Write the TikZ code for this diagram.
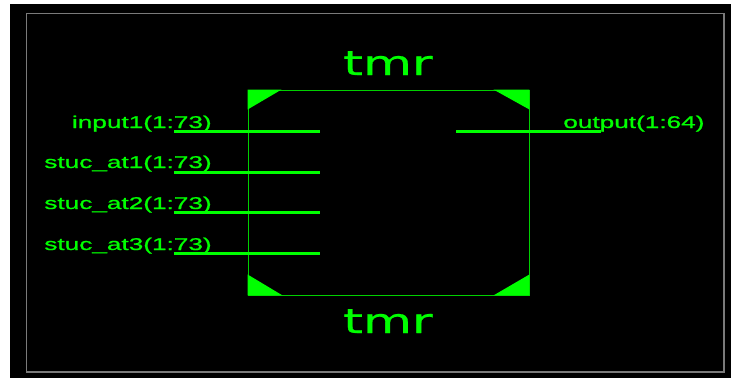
\documentclass[tikz,border=0pt]{standalone}
\usepackage{fontspec}
\usepackage{xcolor}
\usepackage{tikz}
\usetikzlibrary{calc, positioning}
\newfontfamily\pinfont[FakeBold=0.8]{Liberation Sans}
\newfontfamily\titlefont[FakeBold=0.6]{DejaVu Sans}
\definecolor{schgreen}{HTML}{00FF00}
\definecolor{boxgreen}{HTML}{00D000}
\definecolor{framegray}{HTML}{7A7A7A}
\tikzset{
    symbox/.style={
        rectangle, draw=boxgreen, line width=0.9pt,
        minimum width=281pt, minimum height=205pt, inner sep=0pt
    },
    corner/.style={
        fill=schgreen, draw=none
    },
    pinline/.style={
        draw=schgreen, line width=3pt
    },
    pinlab/.style={
        font=\pinfont\fontsize{17}{17}\selectfont, text=schgreen,
        inner sep=0pt, xscale=1.54
    },
    titlelab/.style={
        font=\titlefont\fontsize{34}{34}\selectfont, text=schgreen,
        inner sep=0pt, anchor=base, xscale=1.48
    },
}

\begin{document}
\begin{tikzpicture}[x=1pt, y=-1pt]
    % page, sheet and frame
    \fill[white] (0,0) rectangle (731,378);
    \fill[black] (10,4) rectangle (731,378);
    \draw[framegray, line width=1.5pt] (26.5,13.5) rectangle (724,372);
    \useasboundingbox (0,0) rectangle (731,378);

    % symbol body
    \node[symbox] (tmrbox) at (388.5,192.5) {};
    \fill[corner] (tmrbox.north west) -- ++(34,0) -- ++(-34,20) -- cycle;
    \fill[corner] (tmrbox.north east) -- ++(-36,0) -- ++(36,20) -- cycle;
    \fill[corner] (tmrbox.south west) -- ++(35,0) -- ++(-35,-21) -- cycle;
    \fill[corner] (tmrbox.south east) -- ++(-36,0) -- ++(36,-21) -- cycle;

    \node[titlelab] (toptitle) at (388,75) {tmr};
    \node[titlelab] (bottitle) at (388,333) {tmr};

    % input pins
    \coordinate (in1start) at (174,131);
    \coordinate (in1end) at (320,131);
    \coordinate (sa1start) at (174,172);
    \coordinate (sa1end) at (320,172);
    \coordinate (sa2start) at (174,212);
    \coordinate (sa2end) at (320,212);
    \coordinate (sa3start) at (174,253);
    \coordinate (sa3end) at (320,253);
    \draw[pinline] (in1start) -- (in1end);
    \draw[pinline] (sa1start) -- (sa1end);
    \draw[pinline] (sa2start) -- (sa2end);
    \draw[pinline] (sa3start) -- (sa3end);

    \node[pinlab, anchor=base east] (in1lab) at (212,128) {input1(1:73)};
    \node[pinlab, anchor=base east] (sa1lab) at (212,168) {stuc\_at1(1:73)};
    \node[pinlab, anchor=base east] (sa2lab) at (212,209) {stuc\_at2(1:73)};
    \node[pinlab, anchor=base east] (sa3lab) at (212,250) {stuc\_at3(1:73)};

    % output pin
    \coordinate (outstart) at (456,131);
    \coordinate (outend) at (601,131);
    \draw[pinline] (outstart) -- (outend);
    \node[pinlab, anchor=base west] (outlab) at (563,128) {output(1:64)};
\end{tikzpicture}
\end{document}
